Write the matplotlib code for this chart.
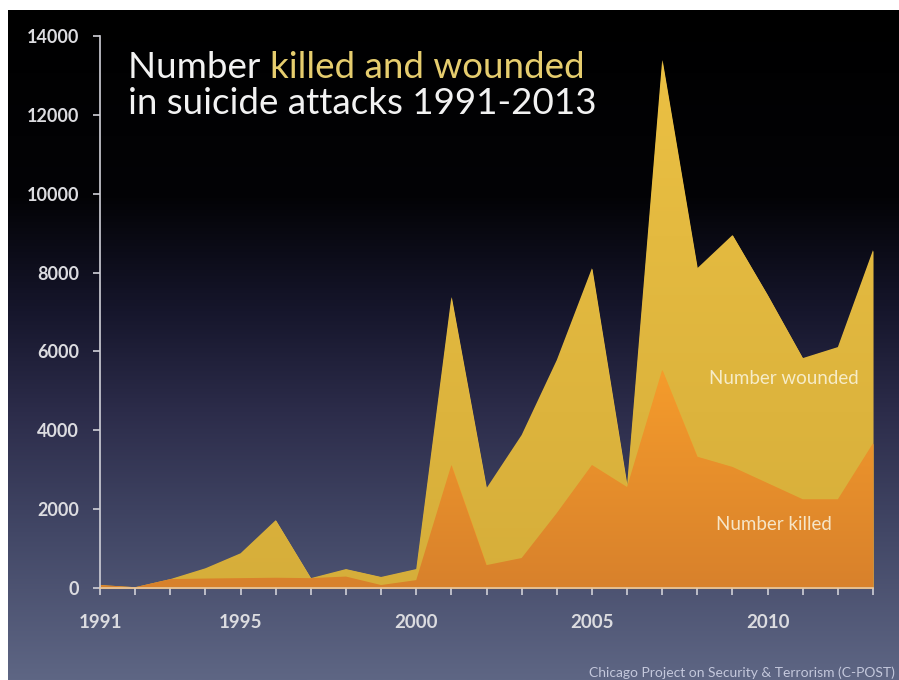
import numpy as np
import matplotlib
matplotlib.use('Agg')
import matplotlib.pyplot as plt
from matplotlib.colors import LinearSegmentedColormap

# data
years = list(range(1991, 2014))
wounded = [75, 20, 225, 500, 880, 1720, 250, 480, 280, 480,
           7380, 2530, 3880, 5780, 8110, 2600, 13390, 8110, 8950, 7430,
           5830, 6110, 8570]
killed = [75, 20, 225, 240, 250, 260, 250, 290, 75, 200,
          3120, 580, 760, 1900, 3120, 2560, 5530, 3330, 3070, 2660,
          2250, 2250, 3670]
yticks = [0, 2000, 4000, 6000, 8000, 10000, 12000, 14000]
xlabels = ['1991', '', '', '', '1995', '', '', '', '', '2000',
           '', '', '', '', '2005', '', '', '', '', '2010', '', '', '']

plt.rcParams['font.family'] = ['Lato', 'DejaVu Sans']

fig = plt.figure(figsize=(8.99, 6.80), dpi=100, facecolor='white')

# background gradient (dark top -> slate blue bottom)
bg = fig.add_axes([8 / 899, 0, 891 / 899, 670 / 680])
bg_cmap = LinearSegmentedColormap.from_list('bg', [
    (0.0, '#000000'), (0.28, '#030306'), (0.45, '#16162c'),
    (0.6, '#2c2c4a'), (0.78, '#424766'), (1.0, '#5e6684')])
grad = np.linspace(0, 1, 256).reshape(-1, 1)
bg.imshow(grad, aspect='auto', cmap=bg_cmap, extent=[0, 1, 1, 0])
bg.set_axis_off()

ax = fig.add_axes([100 / 899, 92 / 680, 773 / 899, 552 / 680])
ax.patch.set_alpha(0)
ax.set_xlim(1991, 2013)
ax.set_ylim(0, 14000)


def gradient_fill(x, y, c_top, c_bot):
    poly = ax.fill_between(x, 0, y, color=c_top, lw=0)
    cm = LinearSegmentedColormap.from_list('g', [c_bot, c_top])
    im = ax.imshow(np.linspace(0, 1, 256).reshape(-1, 1), aspect='auto',
                   cmap=cm, origin='lower', extent=[1991, 2013, 0, max(y)],
                   zorder=poly.get_zorder())
    im.set_clip_path(poly.get_paths()[0], transform=ax.transData)
    ax.set_xlim(1991, 2013)
    ax.set_ylim(0, 14000)


gradient_fill(years, wounded, '#ebc043', '#d6ae3a')
gradient_fill(years, killed, '#f59c2b', '#d8812c')

axis_col = '#d0d0d8'
for s in ['top', 'right']:
    ax.spines[s].set_visible(False)
ax.spines['left'].set_color(axis_col)
ax.spines['bottom'].set_color('#e8c8a0')
ax.spines['left'].set_linewidth(1.2)
ax.spines['bottom'].set_linewidth(1.2)

ax.set_yticks(yticks)
ax.set_yticklabels([str(v) for v in yticks])
ax.set_xticks(years)
ax.set_xticklabels(xlabels)
ax.tick_params(axis='y', colors=axis_col, length=5, width=1.2, pad=10,
               labelsize=13, labelcolor='#dcdce0')
ax.tick_params(axis='x', colors=axis_col, length=5, width=1.2, pad=14,
               labelsize=13.5, labelcolor='#dcdce0')
for lab in ax.get_xticklabels() + ax.get_yticklabels():
    lab.set_fontweight('bold')

# title
t1 = fig.text(128 / 899, 1 - 78 / 680, 'Number ', color='#f2f2f2',
              fontsize=26.5, va='baseline', ha='left')
ax.annotate('killed and wounded', xy=(1, 0), xycoords=t1, color='#e6cd6e',
            fontsize=26.5, va='bottom', ha='left', annotation_clip=False)
fig.text(128 / 899, 1 - 114 / 680, 'in suicide attacks 1991-2013',
         color='#f2f2f2', fontsize=26.5, va='baseline', ha='left')

fig.text(784 / 899, 1 - 378 / 680, 'Number wounded', color='#f6ecc8',
         fontsize=13.5, ha='center', va='center')
fig.text(774 / 899, 1 - 525 / 680, 'Number killed', color='#f6e6c8',
         fontsize=13.5, ha='center', va='center')

fig.text(895 / 899, 1 - 673 / 680,
         'Chicago Project on Security & Terrorism (C-POST)',
         color='#c4c8dc', fontsize=10, ha='right', va='center')

fig.savefig('out.png', dpi=100, facecolor='white')
